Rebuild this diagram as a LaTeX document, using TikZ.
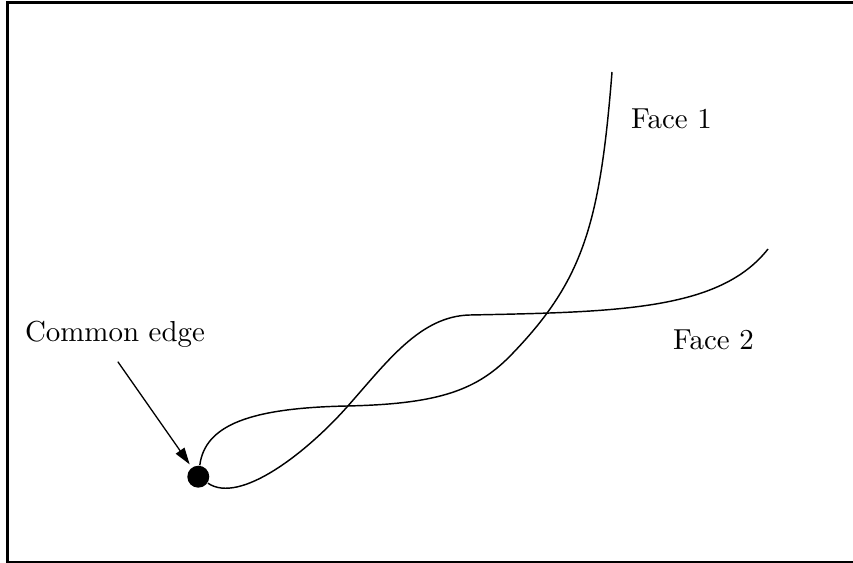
\documentclass[tikz,border=0pt]{standalone}
\usepackage{amsmath}
\usepackage{tikz}
\usetikzlibrary{calc,arrows.meta}

\tikzset{
    face/.style={line width=0.5pt},
    dot/.style={circle, fill=black, inner sep=0pt, minimum size=7.6pt},
    pointer/.style={line width=0.45pt, -{Triangle[length=5.8pt,width=3.6pt]}}
}

\begin{document}
\begin{tikzpicture}[x=1.216cm, y=1.216cm]
    \useasboundingbox (0,0) rectangle (8.53,5.63);
    \draw[line width=1pt] (8.7,0.01) -- (0.075,0.01) -- (0.075,5.605) -- (8.7,5.605);

    \node[dot] (edge) at (1.983,0.863) {};

    % Face 1 i Face 2
    \draw[face] (edge) .. controls (2.05,1.38) and (2.50,1.55) .. (3.47,1.57)
        .. controls (4.40,1.59) and (4.78,1.73) .. (5.13,2.10)
        .. controls (5.83,2.83) and (6.00,3.39) .. (6.12,4.91);
    \draw[face] (edge) .. controls (2.40,0.58) and (3.07,1.11) .. (3.47,1.56)
        .. controls (3.87,2.01) and (4.20,2.47) .. (4.70,2.48)
        .. controls (6.20,2.51) and (7.20,2.53) .. (7.68,3.14);

    \node[anchor=base] (common) at (1.15,2.215) {Common edge};
    \node[anchor=base] (face1) at (6.715,4.347) {Face 1};
    \node[anchor=base] (face2) at (7.135,2.135) {Face 2};

    \draw[pointer, shorten <=1.7pt, shorten >=1.2pt] (common.south) -- (edge);
\end{tikzpicture}
\end{document}
